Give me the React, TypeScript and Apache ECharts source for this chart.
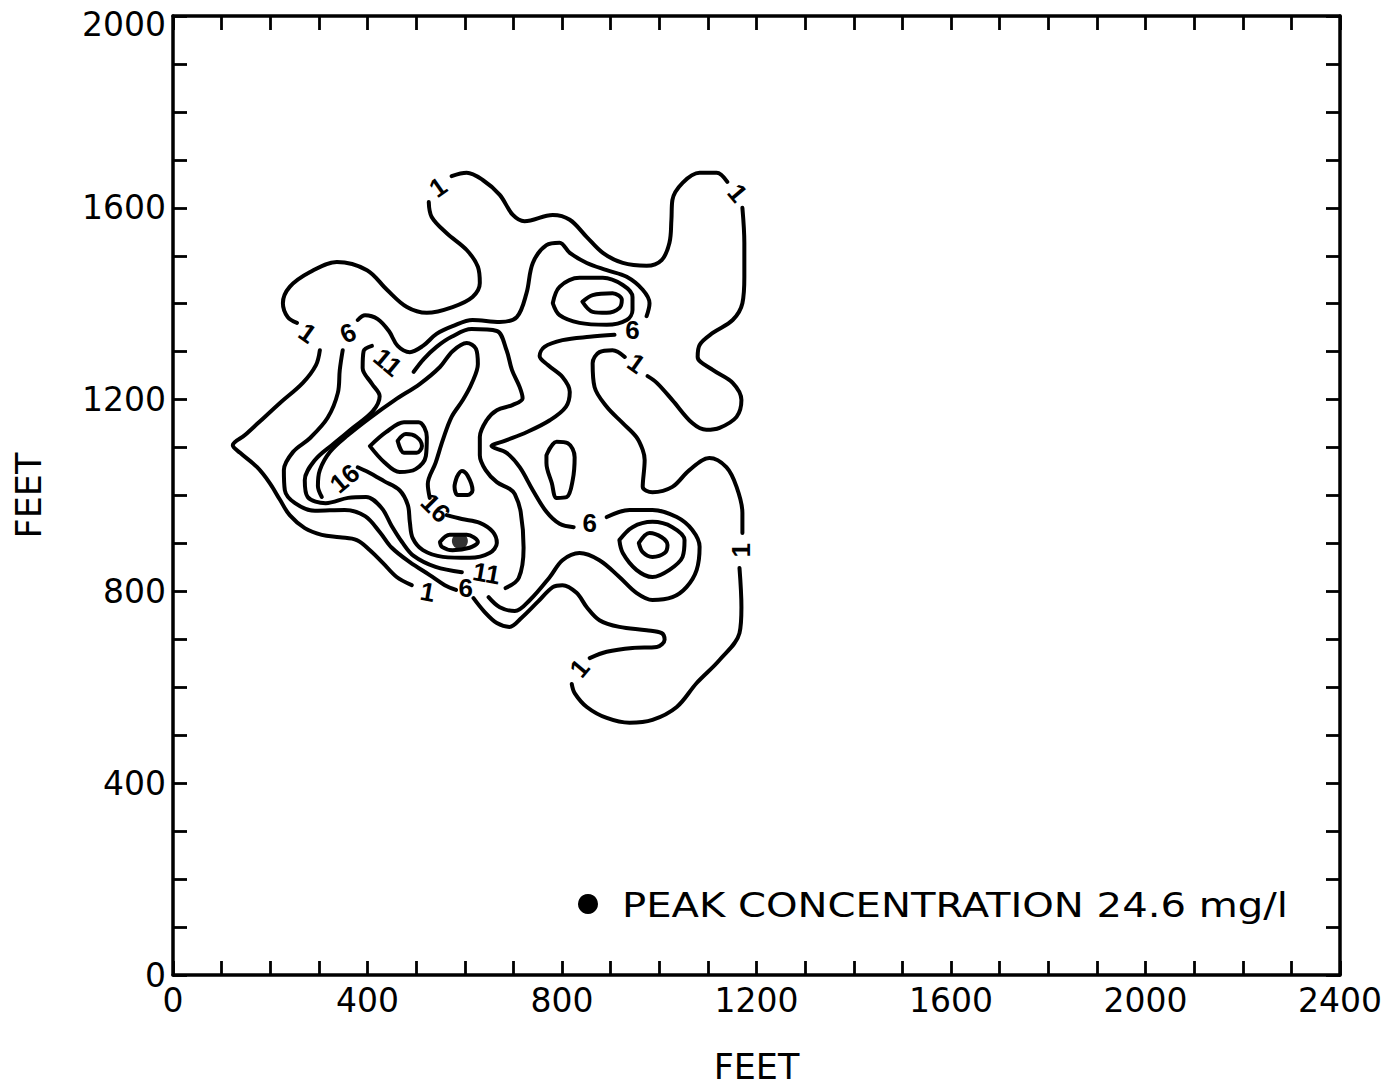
import React, { useEffect, useRef } from 'react';
import * as echarts from 'echarts';

// ---- axis values (feet) ----
const X_MIN = 0, X_MAX = 2400, X_STEP = 400;
const Y_MIN = 0, Y_MAX = 2000, Y_STEP = 400;

// ---- contour lines, [x ft, y ft], broken where labels sit ----
// contour 1 (outer)
const c1_a = [[573,1666],[604,1673],[637,1658],[672,1627],[699,1585],[723,1572],[781,1585],[816,1575],[851,1539],[884,1506],[925,1485],[974,1479],[1005,1491],[1021,1527],[1025,1575],[1027,1616],[1048,1652],[1083,1673],[1118,1673],[1140,1654]];
const c1_b = [[1171,1600],[1175,1527],[1175,1456],[1171,1401],[1151,1366],[1110,1339],[1083,1314],[1079,1289],[1110,1262],[1151,1235],[1169,1199],[1159,1164],[1124,1141],[1097,1137],[1068,1151],[1027,1199],[995,1235],[976,1249]];
const c1_c = [[929,1289],[904,1303],[877,1299],[863,1276],[867,1226],[892,1185],[925,1151],[953,1122],[966,1095],[970,1074],[966,1018],[986,1007],[1027,1018],[1062,1053],[1103,1078],[1138,1059],[1159,1018],[1171,964],[1171,922]];
const c1_d = [[1165,849],[1169,767],[1165,713],[1124,657],[1077,609],[1036,559],[986,532],[939,526],[892,536],[851,559],[826,588],[820,607]];
const c1_e = [[857,661],[892,674],[945,682],[995,684],[1011,699],[1005,713],[974,719],[918,726],[877,740],[851,767],[830,797],[801,813],[781,809],[750,778],[717,745],[692,726],[666,734],[641,757],[618,786]];
const c1_f = [[491,813],[460,830],[432,859],[405,886],[378,907],[343,913],[306,918],[271,932],[240,959],[220,991],[199,1026],[173,1059],[138,1089],[123,1105],[148,1126],[175,1151],[220,1193],[267,1235],[294,1272],[302,1303]];
const c1_g = [[255,1360],[236,1372],[226,1401],[240,1435],[282,1466],[337,1487],[399,1470],[440,1429],[481,1393],[522,1381],[575,1393],[616,1414],[631,1443],[627,1477],[604,1512],[563,1547],[532,1581],[526,1612]];
// contour 6
const c6_a = [[349,1303],[343,1262],[339,1214],[318,1162],[282,1120],[247,1091],[228,1053],[230,1011],[251,984],[292,968],[353,970],[395,957],[425,924],[450,891],[487,861],[528,834],[559,813],[582,803]];
const c6_b = [[380,1366],[395,1376],[421,1368],[444,1343],[462,1312],[487,1299],[514,1312],[542,1337],[575,1353],[616,1366],[672,1362],[707,1372],[727,1422],[740,1485],[768,1522],[795,1527],[816,1506],[851,1485],[892,1470],[933,1456],[966,1429],[980,1401],[974,1374]];
const c6_c = [[908,1335],[857,1331],[801,1324],[764,1310],[754,1291],[771,1272],[801,1247],[816,1216],[808,1185],[775,1157],[727,1132],[682,1114],[655,1103],[686,1089],[713,1059],[740,1011],[768,966],[795,941],[824,934]];
const c6_d = [[892,955],[939,970],[986,970],[1036,955],[1068,928],[1083,893],[1077,845],[1056,809],[1027,788],[986,782],[953,797],[918,830],[877,865],[836,880],[801,865],[775,830],[734,782],[703,759],[672,767],[649,788]];
// contour 11
const c11_a = [[409,1312],[392,1301],[390,1266],[409,1233],[425,1207],[411,1176],[370,1141],[329,1107],[292,1074],[271,1032],[277,997],[314,984],[360,995],[397,997],[429,974],[450,936],[471,903],[495,874],[540,851],[594,840]];
const c11_b = [[495,1258],[516,1285],[542,1310],[573,1331],[614,1347],[666,1343],[686,1303],[697,1262],[713,1226],[719,1203],[699,1189],[666,1178],[645,1157],[631,1122],[631,1084],[643,1053],[666,1028],[692,1014],[703,1003],[715,966],[721,891],[711,828],[684,807]];
const c11_upper = [[781,1401],[795,1435],[836,1454],[884,1454],[925,1439],[945,1414],[945,1387],[933,1366],[892,1356],[836,1360],[795,1376],[781,1401]];
const c11_lower = [[918,907],[945,934],[986,945],[1027,934],[1052,907],[1048,872],[1021,845],[986,830],[953,845],[925,880],[918,907]];
const c11_small = [[768,1084],[789,1112],[812,1109],[826,1080],[822,1032],[810,997],[789,995],[779,1026],[768,1068],[768,1084]];
// contour 16
const c16_a = [[306,997],[298,1020],[302,1053],[323,1091],[360,1126],[405,1162],[456,1199],[508,1233],[549,1268],[575,1301],[604,1318],[623,1306],[627,1274],[614,1233],[596,1199],[573,1164],[555,1116],[540,1068],[524,1024],[528,995]];
const c16_b = [[563,959],[594,951],[631,943],[658,924],[666,901],[651,880],[610,870],[555,872],[514,886],[493,911],[487,945],[483,980],[466,1011],[434,1030],[401,1049],[380,1059]];
const c16_upper = [[842,1404],[863,1418],[904,1422],[923,1408],[918,1391],[892,1381],[863,1383],[842,1404]];
const c16_lower = [[958,901],[980,922],[1005,913],[1017,897],[1011,880],[986,872],[966,882],[958,901]];
const c16_ring = [[405,1103],[438,1132],[475,1153],[505,1153],[522,1122],[520,1082],[499,1055],[466,1049],[434,1070],[405,1103]];
const c16_small = [[584,1039],[594,1051],[606,1041],[616,1011],[606,1001],[586,1001],[579,1018],[584,1039]];
// contour 21
const c21_peak = [[549,903],[569,918],[604,918],[627,903],[610,891],[575,886],[553,893],[549,903]];
const c21_left = [[462,1114],[479,1128],[501,1122],[512,1103],[501,1089],[475,1089],[462,1114]];

const contourSegments = [
  c1_a, c1_b, c1_c, c1_d, c1_e, c1_f, c1_g,
  c6_a, c6_b, c6_c, c6_d,
  c11_a, c11_b, c11_upper, c11_lower, c11_small,
  c16_a, c16_b, c16_upper, c16_lower, c16_ring, c16_small,
  c21_peak, c21_left,
];

// ---- contour labels ----
const labelTexts = ['1', '1', '1', '1', '1', '1', '1', '6', '6', '6', '6', '11', '11', '16', '16'];
const labelPositions = [[545,1643],[1161,1631],[953,1276],[1169,886],[836,640],[524,799],[277,1339],[360,1339],[945,1345],[857,943],[602,807],[442,1278],[645,838],[353,1036],[540,974]];
const labelAngles = [35, -50, -35, 90, 50, -10, -35, 25, 0, 0, 0, -40, -10, 40, -45];

// ---- peak ----
const peakPoint = [590, 905];
const peakValue = 24.6;
const peakUnit = 'mg/l';

const FONT = 'DejaVu Sans';
const INK = '#000';

export default function App() {
  const ref = useRef<HTMLDivElement>(null);
  useEffect(() => {
    if (!ref.current) return;
    const chart = echarts.init(ref.current, null, { renderer: 'svg' });
    const tickCommon = {
      axisLine: { show: true, onZero: false, lineStyle: { color: INK, width: 3.5 } },
      axisTick: { show: true, inside: true, length: 14, lineStyle: { color: INK, width: 2.8 } },
      minorTick: { show: true, splitNumber: 4, length: 14, lineStyle: { color: INK, width: 2.8 } },
      splitLine: { show: false },
      minorSplitLine: { show: false },
    };
    const lineSeries = contourSegments.map((pts) => ({
      type: 'line',
      data: pts,
      showSymbol: false,
      symbol: 'none',
      smooth: 0.35,
      silent: true,
      lineStyle: { color: INK, width: 4, cap: 'round', join: 'round' },
      z: 3,
    }));
    const tickLabel = { color: INK, fontSize: 33, fontFamily: FONT };
    chart.setOption({
      animation: false,
      backgroundColor: '#fff',
      grid: { left: 173, top: 16, width: 1167, height: 959, containLabel: false, outerBoundsMode: 'none' },
      xAxis: [
        {
          type: 'value', position: 'bottom', min: X_MIN, max: X_MAX, interval: X_STEP,
          ...tickCommon,
          axisLabel: { show: true, ...tickLabel, margin: 9, formatter: (v: number) => String(v) },
          name: 'FEET', nameLocation: 'middle', nameGap: 74,
          nameTextStyle: { color: INK, fontSize: 35, fontFamily: FONT },
        },
        {
          type: 'value', position: 'top', min: X_MIN, max: X_MAX, interval: X_STEP,
          ...tickCommon,
          axisLabel: { show: false },
        },
      ],
      yAxis: [
        {
          type: 'value', position: 'left', min: Y_MIN, max: Y_MAX, interval: Y_STEP,
          ...tickCommon,
          axisLabel: {
            show: true, ...tickLabel, margin: 7,
            formatter: (v: number) => (v === Y_MAX ? `{top|${v}}` : String(v)),
            rich: { top: { ...tickLabel, padding: [16, 0, 0, 0] } },
          },
          name: 'FEET', nameLocation: 'middle', nameGap: 127, nameRotate: 90,
          nameTextStyle: { color: INK, fontSize: 35, fontFamily: FONT },
        },
        {
          type: 'value', position: 'right', min: Y_MIN, max: Y_MAX, interval: Y_STEP,
          ...tickCommon,
          axisLabel: { show: false },
        },
      ],
      series: [
        ...lineSeries,
        {
          type: 'scatter',
          data: labelPositions.map((p, i) => ({ value: p, name: labelTexts[i], label: { rotate: labelAngles[i] } })),
          symbolSize: 1,
          itemStyle: { color: INK, opacity: 0 },
          silent: true,
          label: {
            show: true, position: 'inside', formatter: '{b}', color: INK, opacity: 1,
            fontSize: 26, fontFamily: 'Liberation Sans', fontWeight: 'bold',
            textBorderWidth: 0, textBorderColor: 'transparent',
          },
          z: 4,
        },
        {
          type: 'scatter',
          name: 'PEAK CONCENTRATION',
          data: [peakPoint],
          symbol: 'circle',
          symbolSize: 16,
          itemStyle: { color: INK },
          silent: true,
          z: 5,
        },
      ],
      graphic: [
        { type: 'circle', shape: { cx: 588, cy: 904, r: 10 }, style: { fill: INK } },
        {
          type: 'text', x: 622, y: 905, scaleX: 1.18,
          style: { text: `PEAK CONCENTRATION ${peakValue} ${peakUnit}`, fill: INK, fontSize: 34, fontFamily: FONT, verticalAlign: 'middle', align: 'left' },
        },
      ],
    });
    return () => chart.dispose();
  }, []);
  return <div ref={ref} style={{ position: 'absolute', left: 0, top: 0, width: 1393, height: 1086, background: '#fff' }} />;
}
